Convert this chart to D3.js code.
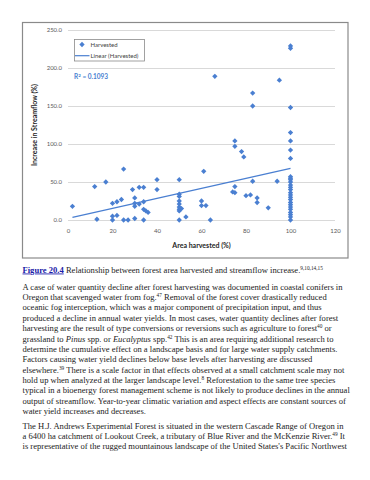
<!DOCTYPE html>
<html>
<head>
<meta charset="utf-8">
<script src="https://cdn.jsdelivr.net/npm/d3@7"></script>
<style>
  body { margin: 0; background: #fff; }
  svg { display: block; }
</style>
</head>
<body>
<svg id="page" width="370" height="480"></svg>
<script>
// data
const areaHarvested = [2, 12, 13, 17, 20, 20, 20, 22, 22, 24, 25, 25, 27, 29, 30, 30, 30, 30, 32, 32,
    34, 34, 34, 34, 35, 36, 40, 40, 50, 50, 50, 50, 50, 50, 50, 50, 50, 51, 53, 60,
    60, 61, 62, 64, 66, 74, 75, 75, 75, 75, 78, 79, 80, 82, 83, 83, 83, 85, 85, 90,
    94, 95, 100, 100, 100, 100, 100, 100, 100,
    100, 100, 100, 100, 100, 100, 100, 100, 100, 100, 100, 100, 100, 100, 100, 100, 100, 100, 100];
const streamflowIncrease = [18, 44, 1, 50, 22, 5, 0, 24, 6, 27, 67, 0, 0, 40, 29, 22, 18, 2, 43, 21,
    43, 24, 14, 0, 12, 10, 53, 40, 53, 34, 31, 25, 21, 17, 14, 12, 0, 15, 4, 25,
    19, 64, 19, 0, 189, 37, 44, 36, 104, 97, 90, 83, 32, 33, 51, 167, 150, 29, 23, 16,
    51, 184, 229, 226, 148, 115, 104, 92, 81,
    57, 55, 53, 50, 46, 43, 40, 36, 33, 30, 27, 23, 20, 17, 14, 10, 7, 4, 0];
// Excel linear trendline, ends as seen in the picture
const trendX = [2, 100];
const trendY = [3.5, 68];
const rSquared = "0.1093";

const xTicks = [0, 20, 40, 60, 80, 100, 120];
const yTicks = [0, 50, 100, 150, 200, 250];

const captionLabel = "Figure 20.4";
const captionText = " Relationship between forest area harvested and streamflow increase.";
const captionRefs = "9,10,14,15";

// each line is a list of [text, style] pieces: n normal, i italic, s superscript
const paragraphs = [
    [
        [["A case of water quantity decline after forest harvesting was documented in coastal conifers in", "n"]],
        [["Oregon that scavenged water from fog.", "n"], ["47", "s"], [" Removal of the forest cover drastically reduced", "n"]],
        [["oceanic fog interception, which was a major component of precipitation input, and thus", "n"]],
        [["produced a decline in annual water yields. In most cases, water quantity declines after forest", "n"]],
        [["harvesting are the result of type conversions or reversions such as agriculture to forest", "n"], ["40", "s"], [" or", "n"]],
        [["grassland to ", "n"], ["Pinus", "i"], [" spp. or ", "n"], ["Eucalyptus", "i"], [" spp.", "n"], ["42", "s"], [" This is an area requiring additional research to", "n"]],
        [["determine the cumulative effect on a landscape basis and for large water supply catchments.", "n"]],
        [["Factors causing water yield declines below base levels after harvesting are discussed", "n"]],
        [["elsewhere.", "n"], ["39", "s"], [" There is a scale factor in that effects observed at a small catchment scale may not", "n"]],
        [["hold up when analyzed at the larger landscape level.", "n"], ["8", "s"], [" Reforestation to the same tree species", "n"]],
        [["typical in a bioenergy forest management scheme is not likely to produce declines in the annual", "n"]],
        [["output of streamflow. Year-to-year climatic variation and aspect effects are constant sources of", "n"]],
        [["water yield increases and decreases.", "n"]]
    ],
    [
        [["The H.J. Andrews Experimental Forest is situated in the western Cascade Range of Oregon in", "n"]],
        [["a 6400 ha catchment of Lookout Creek, a tributary of Blue River and the McKenzie River.", "n"], ["49", "s"], [" It", "n"]],
        [["is representative of the rugged mountainous landscape of the United States's Pacific Northwest", "n"]]
    ]
];

const blue = "#4a7fd1";
const chartFont = "Lato, 'Open Sans', sans-serif";
const bodyFont = "'Liberation Serif', 'DejaVu Serif', serif";

const svg = d3.select("#page");

// chart frame
svg.append("rect")
    .attr("x", 22.5).attr("y", 22.5)
    .attr("width", 325.5).attr("height", 235.5)
    .attr("fill", "#fff")
    .attr("stroke", "#8a8a8a")
    .attr("stroke-width", 1.2);

var x = d3.scaleLinear().domain([0, 120]).range([68, 335]);
var y = d3.scaleLinear().domain([0, 250]).range([220, 30]);

// y gridlines + labels
var yAxis = svg.append("g")
    .attr("transform", "translate(" + x(0) + ",0)")
    .call(d3.axisLeft(y)
        .tickValues(yTicks)
        .tickSize(-(x(120) - x(0)))
        .tickPadding(6)
        .tickFormat(d3.format(".1f")));
yAxis.select(".domain").remove();
yAxis.selectAll(".tick line").attr("stroke", "#d9d9d9").attr("stroke-width", 1);
yAxis.selectAll(".tick text")
    .attr("fill", "#595959")
    .style("font-family", chartFont)
    .style("font-size", "6px");

// x labels
var xAxis = svg.append("g")
    .attr("transform", "translate(0," + y(0) + ")")
    .call(d3.axisBottom(x)
        .tickValues(xTicks)
        .tickSize(0)
        .tickPadding(9)
        .tickFormat(d3.format("d")));
xAxis.select(".domain").remove();
xAxis.selectAll(".tick text")
    .attr("fill", "#595959")
    .style("font-family", chartFont)
    .style("font-size", "6px");

// axis titles
svg.append("text")
    .attr("x", (x(0) + x(120)) / 2)
    .attr("y", 247.5)
    .attr("text-anchor", "middle")
    .style("font-family", chartFont)
    .style("font-size", "7px")
    .style("font-weight", "bold")
    .attr("fill", "#262626")
    .text("Area harvested (%)");

svg.append("text")
    .attr("transform", "translate(36.5," + (y(0) + y(250)) / 2 + ") rotate(-90)")
    .attr("text-anchor", "middle")
    .style("font-family", chartFont)
    .style("font-size", "7px")
    .style("font-weight", "bold")
    .attr("fill", "#262626")
    .text("Increase in Streamflow (%)");

// trendline
svg.append("line")
    .attr("x1", x(trendX[0])).attr("y1", y(trendY[0]))
    .attr("x2", x(trendX[1])).attr("y2", y(trendY[1]))
    .attr("stroke", blue)
    .attr("stroke-width", 1.2);

// points (diamonds)
var diamond = d3.symbol().type(d3.symbolSquare).size(14);
svg.append("g")
    .selectAll("path")
    .data(areaHarvested.map((a, i) => [a, streamflowIncrease[i]]))
    .join("path")
    .attr("d", diamond)
    .attr("transform", d => "translate(" + x(d[0]) + "," + y(d[1]) + ") rotate(45)")
    .attr("fill", blue);

// legend
var legend = svg.append("g");
legend.append("rect")
    .attr("x", 74.5).attr("y", 39.5)
    .attr("width", 70).attr("height", 21.5)
    .attr("fill", "#fff")
    .attr("stroke", "#8a8a8a")
    .attr("stroke-width", 0.8);
legend.append("path")
    .attr("d", diamond)
    .attr("transform", "translate(82,44.5) rotate(45)")
    .attr("fill", blue);
legend.append("line")
    .attr("x1", 75).attr("x2", 89.5)
    .attr("y1", 55.7).attr("y2", 55.7)
    .attr("stroke", blue)
    .attr("stroke-width", 1.2);
legend.selectAll("text.lg")
    .data([["Harvested", 46.5], ["Linear (Harvested)", 57.8]])
    .join("text")
    .attr("class", "lg")
    .attr("x", 90.5)
    .attr("y", d => d[1])
    .style("font-family", chartFont)
    .style("font-size", "6px")
    .attr("fill", "#404040")
    .text(d => d[0]);

// R squared
var r2 = svg.append("text")
    .attr("x", 74)
    .attr("y", 79)
    .style("font-family", chartFont)
    .style("font-size", "6.5px")
    .style("font-weight", "bold")
    .attr("fill", blue);
r2.append("tspan").text("R");
r2.append("tspan").attr("dy", -2.5).style("font-size", "4.5px").text("2");
r2.append("tspan").attr("dy", 2.5).text(" = " + rSquared);

// body font size: fit the first body line to the column width seen in the picture
var probe = svg.append("text")
    .style("font-family", bodyFont)
    .style("font-size", "10px")
    .text(paragraphs[0][0][0][0]);
var bodySize = 10 * 320.5 / probe.node().getComputedTextLength();
probe.remove();
var supSize = bodySize * 0.62;

// caption
var cap = svg.append("text")
    .attr("x", 22.5)
    .attr("y", 272.5)
    .style("font-family", bodyFont)
    .style("font-size", bodySize + "px")
    .attr("fill", "#222");
cap.append("tspan")
    .attr("fill", "#1a1aa8")
    .style("font-weight", "bold")
    .style("text-decoration", "underline")
    .text(captionLabel);
cap.append("tspan").text(captionText);
cap.append("tspan").attr("dy", -3).style("font-size", supSize + "px").text(captionRefs);

// body text
var lineH = 10.38;
var baseY = [289.6, 428.6];
paragraphs.forEach((para, p) => {
    para.forEach((line, li) => {
        var t = svg.append("text")
            .attr("x", 22.5)
            .attr("y", baseY[p] + li * lineH)
            .style("font-family", bodyFont)
            .style("font-size", bodySize + "px")
            .attr("fill", "#222");
        var raised = false;
        line.forEach(seg => {
            var ts = t.append("tspan").text(seg[0]);
            if (seg[1] == "i") ts.style("font-style", "italic");
            if (seg[1] == "s") {
                ts.attr("dy", -3).style("font-size", supSize + "px");
                raised = true;
            } else if (raised) {
                ts.attr("dy", 3);
                raised = false;
            }
        });
    });
});
</script>
</body>
</html>
